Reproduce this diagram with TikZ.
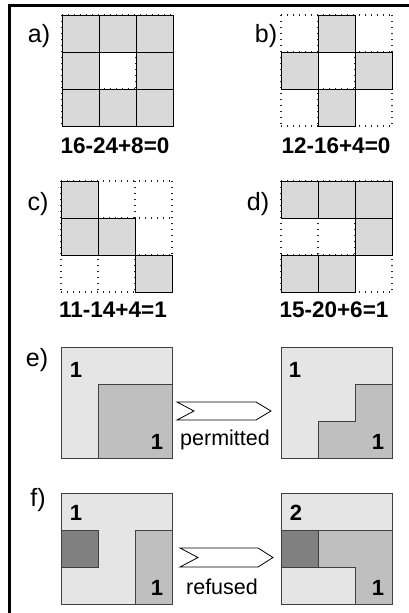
\documentclass[tikz,border=0pt]{standalone}
\usepackage{fontspec}
\setmainfont{Liberation Sans}
\tikzset{
  lab/.style={inner sep=0pt, font=\fontsize{25}{29}\selectfont},
  eqn/.style={inner sep=0pt, font=\fontsize{22.5}{27}\selectfont\bfseries},
  num/.style={inner sep=0pt, font=\fontsize{22}{26}\selectfont\bfseries},
  word/.style={inner sep=0pt, font=\fontsize{21.5}{25}\selectfont},
  dotline/.style={draw=black!85, line width=1.3pt, dash pattern=on 1.3pt off 4.7pt},
  cellg/.style={fill=black!15, draw=black, line width=1pt},
  lightg/.style={fill=black!10, draw=black!75, line width=0.9pt},
  medg/.style={fill=black!25, draw=black!75, line width=0.9pt},
  darkg/.style={fill=black!50, draw=black!75, line width=0.9pt},
  chev/.style={fill=white, draw=black, line width=0.8pt, line join=miter},
}
\newcommand{\dotgrid}{%
  \foreach \k in {0,1,2,3} {
    \draw[dotline] (\k,0) -- (\k,3);
    \draw[dotline] (0,\k) -- (3,\k);
  }}
\newcommand{\gcell}[2]{\filldraw[cellg] (#1,#2) rectangle ++(1,1);}
\begin{document}
\begin{tikzpicture}[x=1pt,y=-1pt]
\useasboundingbox (0,0) rectangle (409,613);
% frame
\draw[line width=3pt] (9,613) -- (9,5) -- (409,5);

% a)
\node[lab] (la) at (39,36) {a)};
\begin{scope}[shift={(62,15)},x=37pt,y=-37pt]
  \dotgrid
  \gcell{0}{0}\gcell{1}{0}\gcell{2}{0}
  \gcell{0}{1}\gcell{2}{1}
  \gcell{0}{2}\gcell{1}{2}\gcell{2}{2}
\end{scope}
\node[eqn] (ea) at (115,146) {16-24+8=0};

% b)
\node[lab] (lb) at (266,36) {b)};
\begin{scope}[shift={(281,15)},x=37pt,y=-37pt]
  \dotgrid
  \gcell{1}{0}\gcell{0}{1}\gcell{2}{1}\gcell{1}{2}
\end{scope}
\node[eqn] (eb) at (336,146) {12-16+4=0};

% c)
\node[lab] (lc) at (38,204) {c)};
\begin{scope}[shift={(61,181)},x=37pt,y=-37pt]
  \dotgrid
  \gcell{0}{0}\gcell{0}{1}\gcell{1}{1}\gcell{2}{2}
\end{scope}
\node[eqn] (ec) at (113,310) {11-14+4=1};

% d)
\node[lab] (ld) at (258,204) {d)};
\begin{scope}[shift={(281,181)},x=37pt,y=-37pt]
  \dotgrid
  \gcell{0}{0}\gcell{1}{0}\gcell{2}{0}
  \gcell{2}{1}
  \gcell{0}{2}\gcell{1}{2}
\end{scope}
\node[eqn] (ed) at (334,310) {15-20+6=1};

% e)
\node[lab] (le) at (37,360) {e)};
\filldraw[lightg] (61,347) rectangle (172,458);
\filldraw[medg] (98,384) rectangle (172,458);
\node[num] (e1a) at (76,370) {1};
\node[num] (e1b) at (157,442) {1};
\filldraw[chev] (177,402) -- (256,402) -- (271,411) -- (256,420) -- (177,420) -- (194,411) -- cycle;
\node[word] (perm) at (225,440) {permitted};
\filldraw[lightg] (281,347) rectangle (392,458);
\filldraw[medg] (318,458) -- (318,421) -- (355,421) -- (355,384) -- (392,384) -- (392,458) -- cycle;
\node[num] (e2a) at (295,370) {1};
\node[num] (e2b) at (378,442) {1};

% f)
\node[lab] (lf) at (38,500) {f)};
\filldraw[lightg] (61,493) rectangle (172,604);
\filldraw[darkg] (61,530) rectangle (98,567);
\filldraw[medg] (135,530) rectangle (172,604);
\node[num] (f1a) at (76,513) {1};
\node[num] (f1b) at (157,588) {1};
\filldraw[chev] (180,548) -- (258,548) -- (273,557.5) -- (258,567) -- (180,567) -- (198,557.5) -- cycle;
\node[word] (refu) at (222,587) {refused};
\filldraw[lightg] (281,493) rectangle (392,604);
\filldraw[darkg] (281,530) rectangle (318,567);
\filldraw[medg] (318,530) -- (392,530) -- (392,604) -- (355,604) -- (355,567) -- (318,567) -- cycle;
\node[num] (f2a) at (296,513) {2};
\node[num] (f2b) at (378,588) {1};
\end{tikzpicture}
\end{document}
